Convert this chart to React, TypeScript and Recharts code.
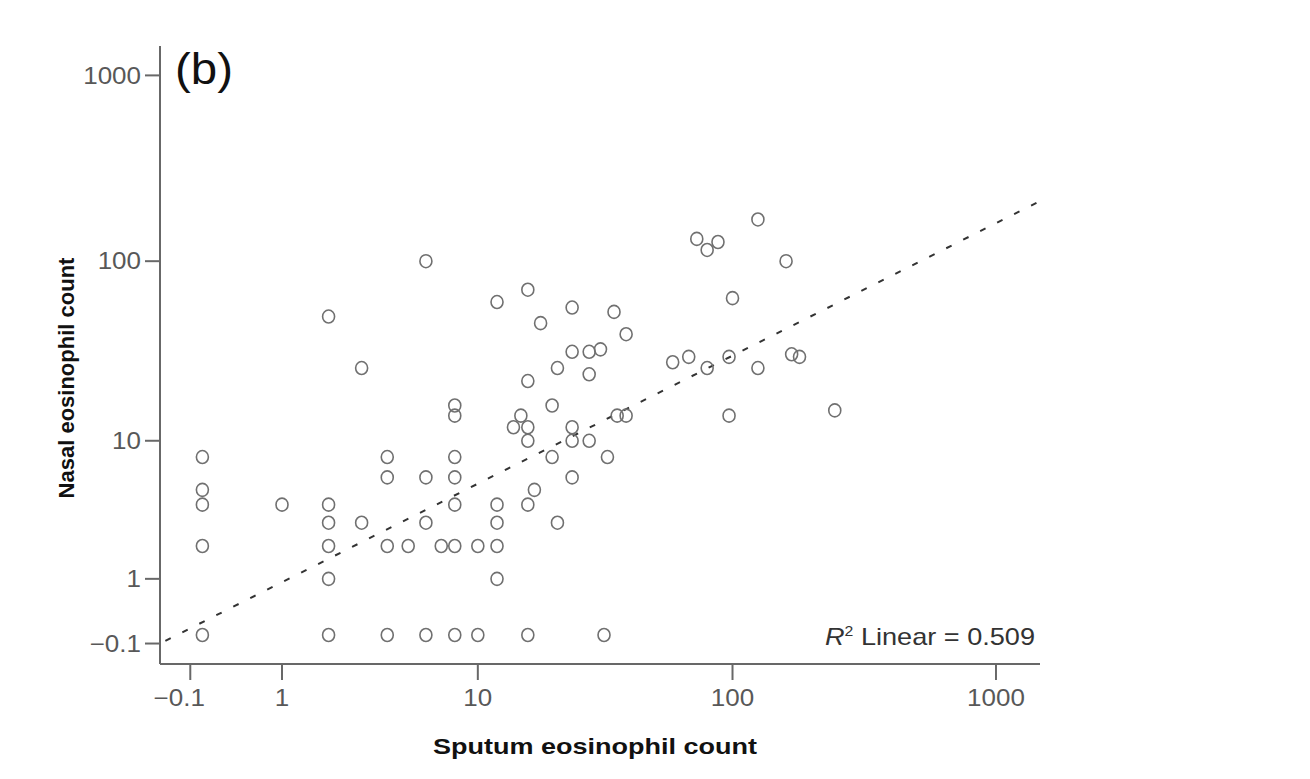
import React from 'react';
import { ScatterChart, Scatter, XAxis, YAxis, ReferenceLine } from 'recharts';

// one entry per subject: sputum (x) and nasal (y) eosinophil counts
const sputumCounts = [
  0, 0, 0, 0, 0,
  1,
  2, 2, 2, 2, 2, 2,
  3, 3,
  4, 4, 4, 4,
  5,
  6, 6, 6, 6,
  7,
  8, 8, 8, 8, 8, 8, 8,
  10, 10,
  12, 12, 12, 12, 12,
  15, 14, 16, 16,
  16, 16, 16, 16,
  17, 18,
  20, 20,
  21, 21,
  24, 24, 24, 24, 24,
  28, 28, 28,
  31, 32, 33, 35, 36, 39, 39,
  59, 68, 73, 80, 80, 88, 97, 97, 100,
  125, 125, 160, 168, 180, 245,
];
const nasalCounts = [
  8, 5, 4, 2, 0,
  4,
  50, 4, 3, 2, 1, 0,
  26, 3,
  8, 6, 2, 0,
  2,
  100, 6, 3, 0,
  2,
  16, 14, 8, 6, 4, 2, 0,
  2, 0,
  60, 4, 3, 2, 1,
  14, 12, 12, 10,
  70, 22, 4, 0,
  5, 46,
  16, 8,
  26, 3,
  56, 32, 12, 10, 6,
  32, 24, 10,
  33, 0, 8, 53, 14, 40, 14,
  28, 30, 132, 115, 26, 127, 30, 14, 63,
  168, 26, 100, 31, 30, 15,
];

const tickValues = [-0.1, 1, 10, 100, 1000];
const tickLabels = ['\u22120.1', '1', '10', '100', '1000'];

// linear fit on log10(count + 1)
const fitIntercept = 0.0685;
const fitSlope = 0.713;
const rSquared = '0.509';

const axisColor = '#686868';
const font = '"Liberation Sans", Arial, sans-serif';

const shift = (v: number) => v + 1;
const tickPos = tickValues.map(shift);
const labelFor = (u: number) => {
  const i = tickPos.findIndex((t) => Math.abs(t - u) < 1e-6);
  return i >= 0 ? tickLabels[i] : '';
};

// the source figure is a little stretched sideways, so widen the glyphs
const charWidth = (c: string) => (c === '.' ? 0.278 : c === '\u2212' ? 0.584 : 0.556);
const stretchedWidth = (s: string, size: number) =>
  s.split('').reduce((a, c) => a + charWidth(c), 0) * size * 1.13;

const AxisTick = (props: any) => {
  const { x, y, payload, textAnchor, vertical } = props;
  const label = labelFor(payload.value);
  const size = 23;
  const dx = !vertical && payload.value === tickPos[0] ? -11 : 0;
  return (
    <text
      x={x + dx}
      y={y}
      dy={vertical ? '0.355em' : '0.71em'}
      textAnchor={textAnchor}
      fontSize={size}
      fontFamily={font}
      fill="#585858"
      textLength={stretchedWidth(label, size)}
      lengthAdjust="spacingAndGlyphs"
    >
      {label}
    </text>
  );
};

const Ring = (props: any) => {
  const { cx, cy } = props;
  if (cx == null || cy == null) return null;
  return <ellipse cx={cx} cy={cy} rx={6} ry={6.5} fill="none" stroke="#707070" strokeWidth={1.6} />;
};

export default function App() {
  const data = sputumCounts.map((s, i) => ({ sputum: shift(s), nasal: shift(nasalCounts[i]) }));
  const fitAt = (xt: number) => ({ x: Math.pow(10, xt), y: Math.pow(10, fitIntercept + fitSlope * xt) });
  const segment = [fitAt(-0.14), fitAt(3.166)];

  return (
    <div style={{ position: 'absolute', left: 0, top: 0, background: '#fff', fontFamily: font }}>
      <ScatterChart width={1310} height={779} margin={{ top: 46, right: 270, bottom: 55, left: 60 }}>
        <XAxis
          dataKey="sputum"
          type="number"
          scale="log"
          domain={[0.6914, 1468.6]}
          allowDataOverflow
          ticks={tickPos}
          height={60}
          tickSize={16}
          tickMargin={10}
          tick={(p: any) => <AxisTick {...p} vertical={false} />}
          axisLine={{ stroke: axisColor, strokeWidth: 2 }}
          tickLine={{ stroke: axisColor, strokeWidth: 2 }}
        />
        <YAxis
          dataKey="nasal"
          type="number"
          scale="log"
          domain={[0.699, 1439]}
          allowDataOverflow
          ticks={tickPos}
          width={100}
          tickSize={15}
          tickMargin={4}
          tick={(p: any) => <AxisTick {...p} vertical />}
          axisLine={{ stroke: axisColor, strokeWidth: 2 }}
          tickLine={{ stroke: axisColor, strokeWidth: 2 }}
        />
        <ReferenceLine
          segment={segment}
          stroke="#333"
          strokeWidth={2}
          strokeDasharray="6 13"
          ifOverflow="visible"
        />
        <Scatter data={data} shape={<Ring />} isAnimationActive={false} />
        <text x={175} y={84} fontSize={44} fill="#111" textLength={58} lengthAdjust="spacingAndGlyphs">
          (b)
        </text>
        <text x={825} y={645} fontSize={24} fill="#333" textLength={210} lengthAdjust="spacingAndGlyphs">
          <tspan fontStyle="italic">R</tspan>
          <tspan fontSize={14} dy={-9}>2</tspan>
          <tspan dy={9}>{' Linear = ' + rSquared}</tspan>
        </text>
        <text x={433} y={754} fontSize={22} fontWeight="bold" fill="#111" textLength={324} lengthAdjust="spacingAndGlyphs">
          Sputum eosinophil count
        </text>
        <text
          x={0}
          y={0}
          transform="translate(74, 378) rotate(-90)"
          textAnchor="middle"
          fontSize={22}
          fontWeight="bold"
          fill="#111"
        >
          Nasal eosinophil count
        </text>
      </ScatterChart>
    </div>
  );
}
